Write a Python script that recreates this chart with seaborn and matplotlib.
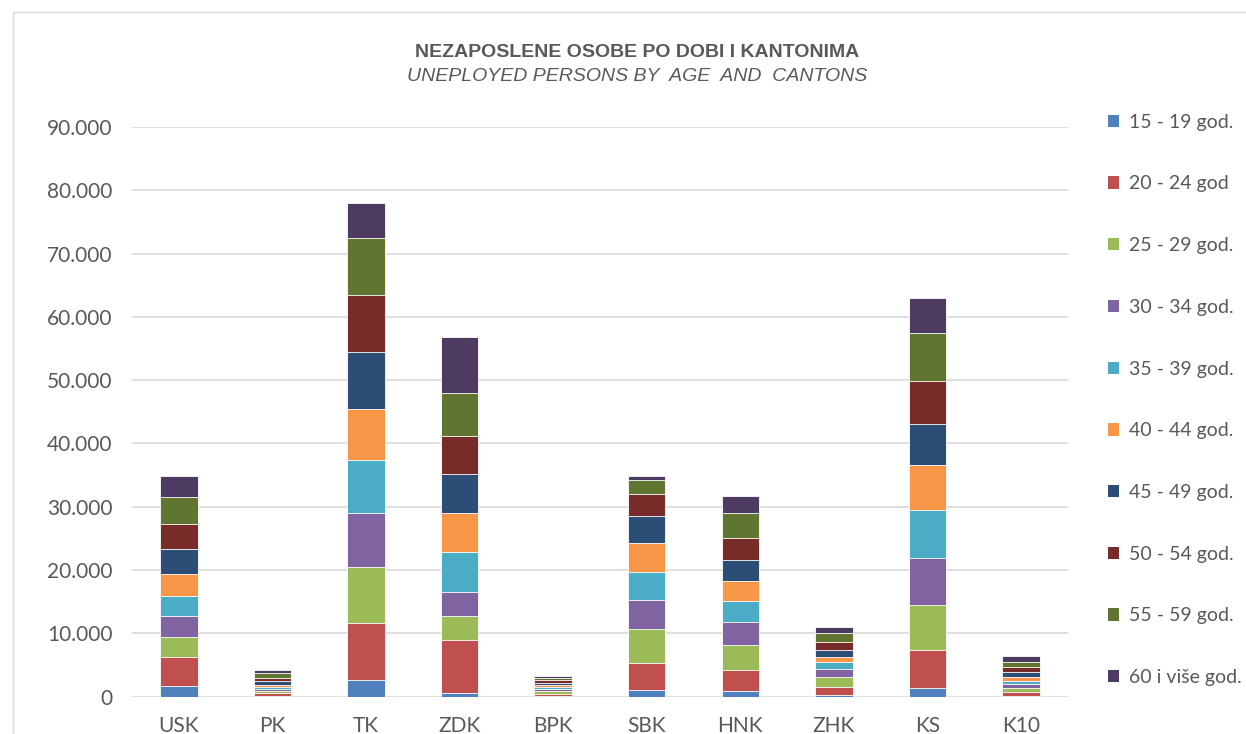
import numpy as np
import pandas as pd
import seaborn as sns
import matplotlib.pyplot as plt
from matplotlib.patches import Patch, Rectangle
from matplotlib.ticker import FuncFormatter

kantoni = ["USK", "PK", "TK", "ZDK", "BPK", "SBK", "HNK", "ZHK", "KS", "K10"]
dobne_grupe = ["15 - 19 god.", "20 - 24 god", "25 - 29 god.", "30 - 34 god.", "35 - 39 god.",
               "40 - 44 god.", "45 - 49 god.", "50 - 54 god.", "55 - 59 god.", "60 i više god."]
boje = ["#4F81BD", "#C0504D", "#9BBB59", "#8064A2", "#4BACC6",
        "#F79646", "#2C4D75", "#772C2A", "#5F7530", "#4D3B62"]

# vrijednosti po dobnim grupama (redoslijed kao kantoni)
g15_19 = [1740, 150, 2640, 630, 110, 1010, 900, 320, 1370, 160]
g20_24 = [4470, 450, 8960, 8280, 370, 4360, 3270, 1150, 6000, 630]
g25_29 = [3160, 350, 8900, 3840, 420, 5370, 4050, 1690, 7110, 630]
g30_34 = [3320, 300, 8580, 3790, 370, 4580, 3540, 1220, 7360, 580]
g35_39 = [3270, 300, 8280, 6320, 270, 4420, 3320, 1040, 7650, 520]
g40_44 = [3420, 350, 8150, 6110, 270, 4530, 3210, 900, 7110, 630]
g45_49 = [3950, 550, 8960, 6160, 270, 4220, 3270, 1110, 6480, 680]
g50_54 = [3950, 550, 8960, 6050, 520, 3480, 3480, 1260, 6840, 790]
g55_59 = [4310, 650, 9010, 6750, 370, 2210, 3890, 1420, 7470, 900]
g60 = [3320, 550, 5470, 8940, 320, 680, 2800, 950, 5590, 900]

serije = [g15_19, g20_24, g25_29, g30_34, g35_39, g40_44, g45_49, g50_54, g55_59, g60]
df = pd.DataFrame(np.array(serije).T, index=kantoni, columns=dobne_grupe)
kum = df.cumsum(axis=1)

siva = "#595959"
plt.rcParams["font.family"] = ["Lato", "DejaVu Sans"]

fig = plt.figure(figsize=(12.46, 7.34), dpi=100)
ax = fig.add_axes([0.106, 0.051, 0.751, 0.776])

# naslagani stupci: crtamo kumulativne sume od vrha prema dnu
for i in range(len(dobne_grupe) - 1, -1, -1):
    sns.barplot(x=kantoni, y=kum[dobne_grupe[i]].values, color=boje[i], saturation=1,
                width=0.4, edgecolor="white", linewidth=0.6, ax=ax, zorder=3)

ax.set_ylim(0, 90000)
ax.set_yticks(range(0, 90001, 10000))
ax.yaxis.set_major_formatter(FuncFormatter(lambda v, p: f"{int(v):,}".replace(",", ".")))
ax.grid(axis="y", color="#D9D9D9", linewidth=1.2, zorder=0)
ax.set_axisbelow(True)
for s in ax.spines.values():
    s.set_visible(False)
ax.tick_params(length=0, labelsize=15, labelcolor=siva)
ax.tick_params(axis="y", pad=14)
ax.tick_params(axis="x", pad=14)
ax.set_xlabel("")
ax.set_ylabel("")

fig.text(0.511, 0.929, "NEZAPOSLENE OSOBE PO DOBI I KANTONIMA", ha="center", va="center",
         fontsize=14, fontweight="bold", color=siva, family="Liberation Sans")
fig.text(0.511, 0.896, "UNEPLOYED PERSONS BY  AGE  AND  CANTONS", ha="center", va="center",
         fontsize=14, style="italic", color=siva, family="Liberation Sans")

rucke = [Patch(facecolor=c, edgecolor="none") for c in boje]
fig.legend(rucke, dobne_grupe, loc="upper left", bbox_to_anchor=(0.875, 0.869), frameon=False,
           fontsize=14, labelcolor=siva, handlelength=0.6, handleheight=0.6, handletextpad=0.5,
           labelspacing=2.3)

fig.patches.append(Rectangle((0.0105, -0.01), 1.0, 0.994, transform=fig.transFigure,
                             fill=False, edgecolor="#D9D9D9", linewidth=1))

fig.savefig("out.png", dpi=100)
